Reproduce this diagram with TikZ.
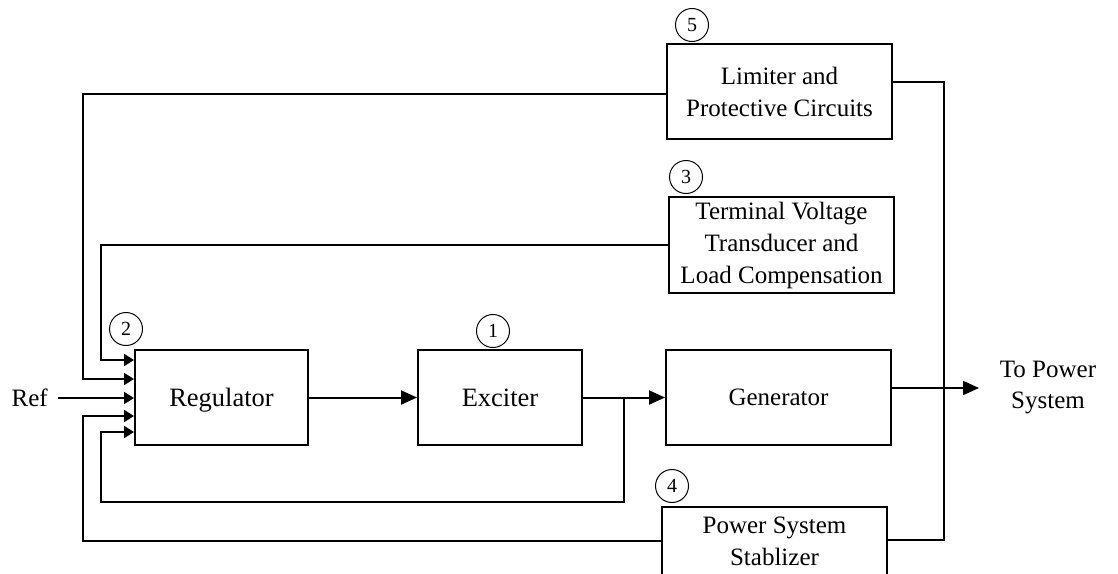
\documentclass[tikz,border=0pt]{standalone}
\usepackage{fontspec}
\setmainfont{Liberation Serif}
\usetikzlibrary{arrows.meta}
\begin{document}
\begin{tikzpicture}[x=1pt,y=-1pt,
  blk/.style={draw,line width=2pt,rectangle,inner sep=0pt,align=center,font=\fontsize{25}{32}\selectfont},
  bigfont/.style={font=\fontsize{26.5}{32}\selectfont,text depth=0pt},
  num/.style={draw,line width=1pt,circle,inner sep=0pt,minimum size=33pt,font=\fontsize{20}{22}\selectfont},
  wire/.style={line width=2pt},
  bigarr/.style={wire,-{Triangle[length=16pt,width=14pt]}},
  smallarr/.style={wire,-{Triangle[length=10pt,width=12pt]}},
  lbl/.style={font=\fontsize{25}{31}\selectfont,align=center,inner sep=0pt}]
\useasboundingbox (0,0) rectangle (1118,573);
\clip (0,0) rectangle (1118,573);
\fill[white] (0,0) rectangle (1118,573);
% blocks
\node[blk,bigfont,minimum width=173pt,minimum height=95pt] (reg) at (221.5,397.5) {Regulator};
\node[blk,bigfont,minimum width=164pt,minimum height=95pt] (exc) at (500,397.5) {Exciter};
\node[blk,minimum width=225pt,minimum height=95pt] (gen) at (778.5,397.5) {Generator};
\node[blk,minimum width=225pt,minimum height=95pt] (lim) at (779.5,91.5) {Limiter and\\Protective Circuits};
\node[blk,minimum width=225pt,minimum height=96pt] (term) at (781.5,245) {Terminal Voltage\\Transducer and\\Load Compensation};
\node[blk,minimum width=225pt,minimum height=68pt] (pss) at (774.5,541) {Power System\\Stablizer};
% numbered circles
\node[num] (n1) at (493,331) {1};
\node[num] (n2) at (126,329) {2};
\node[num] (n3) at (686,177) {3};
\node[num] (n4) at (672,486) {4};
\node[num] (n5) at (692,25) {5};
% labels
\node[lbl,anchor=east] (ref) at (48,398) {Ref};
\node[lbl] (tps) at (1048,388) {To Power\\System};
% coordinates
\coordinate (refs) at (58,398);
\coordinate (j1) at (624,398);
\coordinate (out) at (979,388);
\coordinate (tap) at (944,82);
% connectors
\draw[smallarr] (refs) -- (reg.west |- refs);
\draw[bigarr] (reg.east) -- (exc.west);
\draw[bigarr] (exc.east) -- (gen.west);
\draw[smallarr] (j1) -- (624,502) -- (101,502) -- (101,432) -- (reg.west |- 0,432);
\draw[bigarr] (gen.east |- out) -- (out);
\draw[smallarr] (lim.west |- 0,94) -- (83,94) -- (83,379) -- (reg.west |- 0,379);
\draw[smallarr] (term.west) -- (101,245) -- (101,360) -- (reg.west |- 0,360);
\draw[smallarr] (pss.west |- 0,541) -- (83,541) -- (83,416) -- (reg.west |- 0,416);
\draw[wire] (lim.east |- tap) -- (tap) -- (944,540) -- (pss.east |- 0,540);
\end{tikzpicture}
\end{document}
